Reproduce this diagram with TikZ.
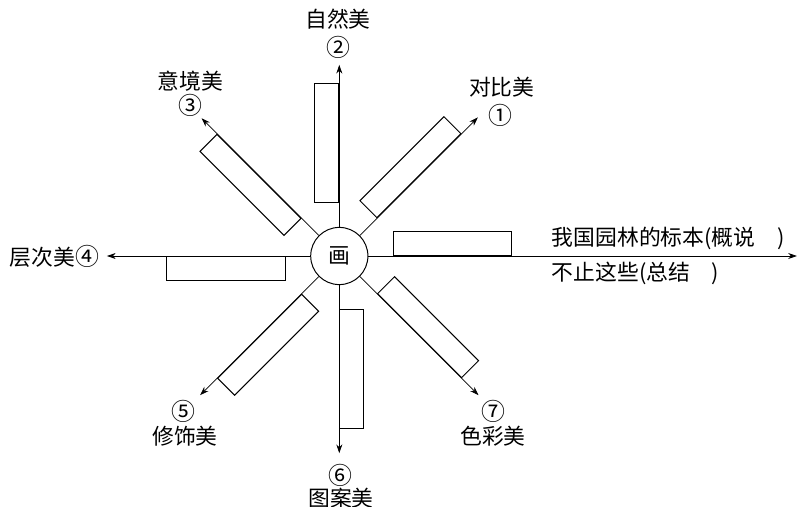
\documentclass[tikz,border=0pt]{standalone}
\usepackage{fontspec}
\newfontfamily\cjk{Noto Sans CJK SC}
\usetikzlibrary{arrows.meta}
\newcommand{\bignum}[1]{{\fontsize{17}{17}\selectfont #1}}
\tikzset{
  ray/.style={line width=0.5pt, -{Stealth[length=2.2mm,width=1.5mm]}},
  bar/.style={draw, line width=0.7pt, minimum width=2.97cm, minimum height=0.6cm, inner sep=0pt, anchor=south west},
  lbl/.style={font=\cjk\fontsize{15.5}{18}\selectfont, inner sep=0pt},
  num/.style={font=\cjk\fontsize{17}{17}\selectfont, inner sep=0pt},
}

\begin{document}
\begin{tikzpicture}
        \useasboundingbox (-8.4825,-6.275) rectangle (11.4675,6.4);

        % Centro
        \node[draw, circle, line width=0.7pt, minimum size=1.43cm, inner sep=0pt, lbl] (hua) at (0,0) {画};

        % Punte delle frecce
        \coordinate (t0) at (11.44,0);
        \coordinate (t45) at (45:4.9);
        \coordinate (t90) at (90:4.78);
        \coordinate (t135) at (135:4.87);
        \coordinate (t180) at (180:5.81);
        \coordinate (t225) at (225:4.92);
        \coordinate (t270) at (270:4.93);
        \coordinate (t315) at (315:4.92);

        % Raggi e rettangoli
        \foreach \a in {0,45,...,315} {
            \draw[ray] (hua) -- (t\a);
            \node[bar, rotate=\a] (b\a) at (\a:1.33) {};
        }

        % Etichette
        \node[lbl] (n2) at (-0.03,5.92) {自然美};
        \node[num] (c2) at (-0.03,5.22) {②};
        \node[lbl] (n1) at (4.06,4.22) {对比美};
        \node[num] (c1) at (4.04,3.52) {①};
        \node[lbl] (n3) at (-3.72,4.38) {意境美};
        \node[num] (c3) at (-3.73,3.77) {③};
        \node[lbl, anchor=east] (n4) at (-6.0,0) {层次美\bignum{④}};
        \node[num] (c5) at (-3.9,-3.89) {⑤};
        \node[lbl] (n5) at (-3.86,-4.5) {修饰美};
        \node[num] (c6) at (0.04,-5.48) {⑥};
        \node[lbl] (n6) at (0.04,-6.05) {图案美};
        \node[num] (c7) at (3.85,-3.89) {⑦};
        \node[lbl] (n7) at (3.84,-4.5) {色彩美};
        \node[lbl, anchor=west] (s1) at (5.31,0.45) {我国园林的标本(概说　)};
        \node[lbl, anchor=west] (s2) at (5.31,-0.43) {不止这些(总结　)};
    \end{tikzpicture}
\end{document}
